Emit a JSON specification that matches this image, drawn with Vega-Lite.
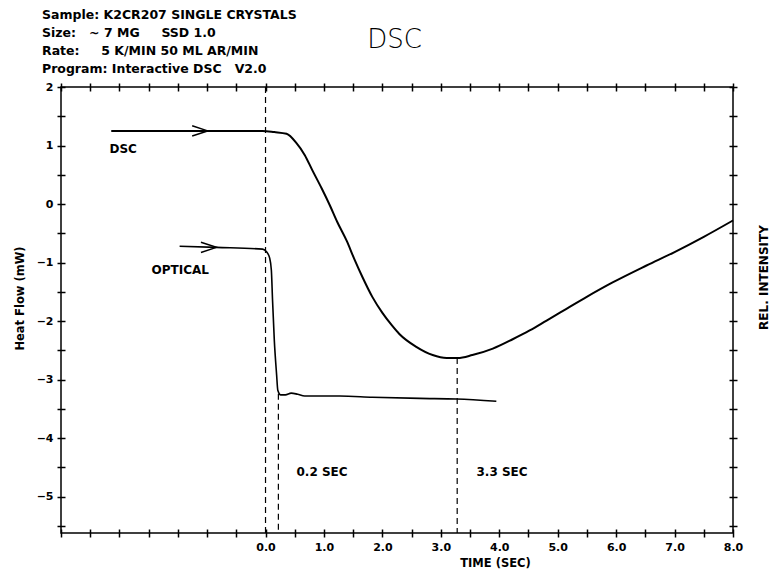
{
  "$schema": "https://vega.github.io/schema/vega-lite/v6.json",
  "width": 672,
  "height": 446,
  "autosize": "none",
  "padding": {"left": 61, "top": 87, "right": 38, "bottom": 39},
  "background": "white",
  "config": {
    "view": {"stroke": "black", "strokeWidth": 1.5},
    "axis": {
      "domain": false, "grid": false,
      "tickColor": "black", "tickWidth": 1.5, "tickSize": 8, "offset": -4,
      "labelColor": "black", "labelFont": "DejaVu Sans", "labelFontWeight": "bold", "labelFontSize": 11,
      "titleColor": "black", "titleFont": "DejaVu Sans", "titleFontWeight": "bold", "titleFontSize": 11.5,
      "labelOverlap": false, "labelFlush": false
    }
  },
  "title": {
    "text": ["Sample: K2CR207 SINGLE CRYSTALS", "Size:\u00a0\u00a0 ~ 7 MG\u00a0\u00a0\u00a0\u00a0 SSD 1.0", "Rate:\u00a0\u00a0\u00a0\u00a0 5 K/MIN 50 ML AR/MIN", "Program: Interactive DSC\u00a0\u00a0 V2.0"],
    "anchor": "start", "frame": "group", "dx": -19, "dy": 56, "offset": 8,
    "font": "DejaVu Sans", "fontSize": 12.5, "fontWeight": "bold", "lineHeight": 18, "color": "black"
  },
  "datasets": {
    "dsc": [
      {"t": -2.64, "v": 1.25}, {"t": -1.13, "v": 1.25}, {"t": -0.44, "v": 1.25}, {"t": -0.05, "v": 1.25},
      {"t": 0.15, "v": 1.23}, {"t": 0.36, "v": 1.2}, {"t": 0.53, "v": 1.04}, {"t": 0.67, "v": 0.84},
      {"t": 0.8, "v": 0.58}, {"t": 0.96, "v": 0.27}, {"t": 1.1, "v": -0.02}, {"t": 1.23, "v": -0.31},
      {"t": 1.39, "v": -0.63}, {"t": 1.52, "v": -0.94}, {"t": 1.66, "v": -1.25}, {"t": 1.83, "v": -1.59},
      {"t": 2.0, "v": -1.86}, {"t": 2.16, "v": -2.07}, {"t": 2.29, "v": -2.22}, {"t": 2.58, "v": -2.44},
      {"t": 2.86, "v": -2.58}, {"t": 3.1, "v": -2.63}, {"t": 3.29, "v": -2.63}, {"t": 3.54, "v": -2.58},
      {"t": 3.89, "v": -2.47}, {"t": 4.23, "v": -2.31}, {"t": 4.52, "v": -2.16}, {"t": 4.81, "v": -1.99},
      {"t": 5.15, "v": -1.79}, {"t": 5.49, "v": -1.59}, {"t": 5.94, "v": -1.34}, {"t": 6.52, "v": -1.05},
      {"t": 7.0, "v": -0.82}, {"t": 7.5, "v": -0.56}, {"t": 8.0, "v": -0.28}
    ],
    "optical": [
      {"t": -1.47, "v": -0.72}, {"t": -0.84, "v": -0.74}, {"t": -0.05, "v": -0.77}, {"t": 0.02, "v": -0.82},
      {"t": 0.07, "v": -0.92}, {"t": 0.1, "v": -1.13}, {"t": 0.12, "v": -1.64}, {"t": 0.15, "v": -2.32},
      {"t": 0.19, "v": -2.92}, {"t": 0.21, "v": -3.18}, {"t": 0.26, "v": -3.26}, {"t": 0.34, "v": -3.26},
      {"t": 0.44, "v": -3.23}, {"t": 0.55, "v": -3.25}, {"t": 0.67, "v": -3.28}, {"t": 1.27, "v": -3.28},
      {"t": 1.83, "v": -3.3}, {"t": 2.64, "v": -3.32}, {"t": 3.27, "v": -3.33}, {"t": 3.95, "v": -3.37}
    ],
    "guides": [
      {"t": 0.0, "top": 2.0, "bottom": -5.62},
      {"t": 0.22, "top": -3.24, "bottom": -5.62},
      {"t": 3.28, "top": -2.63, "bottom": -5.62}
    ],
    "notes": [
      {"t": -2.67, "v": 0.94, "label": "DSC"},
      {"t": -1.95, "v": -1.13, "label": "OPTICAL"},
      {"t": 0.53, "v": -4.58, "label": "0.2 SEC"},
      {"t": 3.61, "v": -4.58, "label": "3.3 SEC"}
    ],
    "arrows": [
      {"t": -0.99, "v": 1.25},
      {"t": -0.84, "v": -0.74}
    ],
    "heading": [
      {"t": 2.21, "v": 2.8, "label": "DSC"}
    ]
  },
  "layer": [
    {
      "data": {"name": "dsc"},
      "mark": {"type": "line", "color": "black", "strokeWidth": 2, "interpolate": "monotone"},
      "encoding": {
        "x": {"field": "t", "type": "quantitative", "scale": {"domain": [-3.5, 8], "nice": false, "zero": false},
          "axis": {"orient": "bottom", "title": "TIME (SEC)",
            "values": [-3.5, -3, -2.5, -2, -1.5, -1, -0.5, 0, 0.5, 1, 1.5, 2, 2.5, 3, 3.5, 4, 4.5, 5, 5.5, 6, 6.5, 7, 7.5, 8],
            "labelExpr": "datum.value >= 0 && datum.value % 1 === 0 ? format(datum.value, '.1f') : ''",
            "labelPadding": 4, "titleX": 434, "titleY": 34, "titleAnchor": null, "titleAlign": "center", "titleBaseline": "middle"}},
        "y": {"field": "v", "type": "quantitative", "scale": {"domain": [-5.62, 2], "nice": false, "zero": false},
          "axis": {"orient": "left", "title": "Heat Flow (mW)",
            "values": [2, 1.5, 1, 0.5, 0, -0.5, -1, -1.5, -2, -2.5, -3, -3.5, -4, -4.5, -5, -5.5],
            "labelExpr": "datum.value % 1 === 0 ? format(datum.value, 'd') : ''",
            "labelPadding": 4, "titleX": -45, "titleY": 211, "titleAngle": -90, "titleAlign": "center", "titleBaseline": "middle"}}
      }
    },
    {
      "data": {"name": "optical"},
      "mark": {"type": "line", "color": "black", "strokeWidth": 1.6, "interpolate": "monotone"},
      "encoding": {
        "x": {"field": "t", "type": "quantitative", "scale": {"domain": [-3.5, 8], "nice": false, "zero": false},
          "axis": {"orient": "top", "title": null, "labels": false,
            "values": [-3.5, -3, -2.5, -2, -1.5, -1, -0.5, 0, 0.5, 1, 1.5, 2, 2.5, 3, 3.5, 4, 4.5, 5, 5.5, 6, 6.5, 7, 7.5, 8]}},
        "y": {"field": "v", "type": "quantitative", "scale": {"domain": [-5.62, 2], "nice": false, "zero": false},
          "axis": {"orient": "right", "title": "REL. INTENSITY", "labels": false, "titleFontSize": 12,
            "values": [2, 1.5, 1, 0.5, 0, -0.5, -1, -1.5, -2, -2.5, -3, -3.5, -4, -4.5, -5, -5.5],
            "titleX": 34, "titleY": 190, "titleAngle": -90, "titleAlign": "center", "titleBaseline": "middle"}}
      }
    },
    {
      "data": {"name": "guides"},
      "mark": {"type": "rule", "color": "black", "strokeWidth": 1.2, "strokeDash": [6, 4]},
      "encoding": {
        "x": {"field": "t", "type": "quantitative", "axis": null},
        "y": {"field": "top", "type": "quantitative", "axis": null},
        "y2": {"field": "bottom"}
      }
    },
    {
      "data": {"name": "notes"},
      "mark": {"type": "text", "align": "left", "baseline": "middle", "font": "DejaVu Sans", "fontWeight": "bold", "fontSize": 12, "color": "black"},
      "encoding": {
        "x": {"field": "t", "type": "quantitative", "axis": null},
        "y": {"field": "v", "type": "quantitative", "axis": null},
        "text": {"field": "label"}
      }
    },
    {
      "data": {"name": "arrows"},
      "mark": {"type": "point", "shape": "M-1,-0.33L0,0L-1,0.33", "filled": false, "size": 960, "color": "black", "strokeWidth": 1.5, "opacity": 1},
      "encoding": {
        "x": {"field": "t", "type": "quantitative", "axis": null},
        "y": {"field": "v", "type": "quantitative", "axis": null}
      }
    },
    {
      "data": {"name": "heading"},
      "mark": {"type": "text", "align": "center", "baseline": "middle", "font": "DejaVu Sans", "fontWeight": 200, "fontSize": 26, "color": "black"},
      "encoding": {
        "x": {"field": "t", "type": "quantitative", "axis": null},
        "y": {"field": "v", "type": "quantitative", "axis": null},
        "text": {"field": "label"}
      }
    }
  ],
  "resolve": {"axis": {"x": "independent", "y": "independent"}}
}
